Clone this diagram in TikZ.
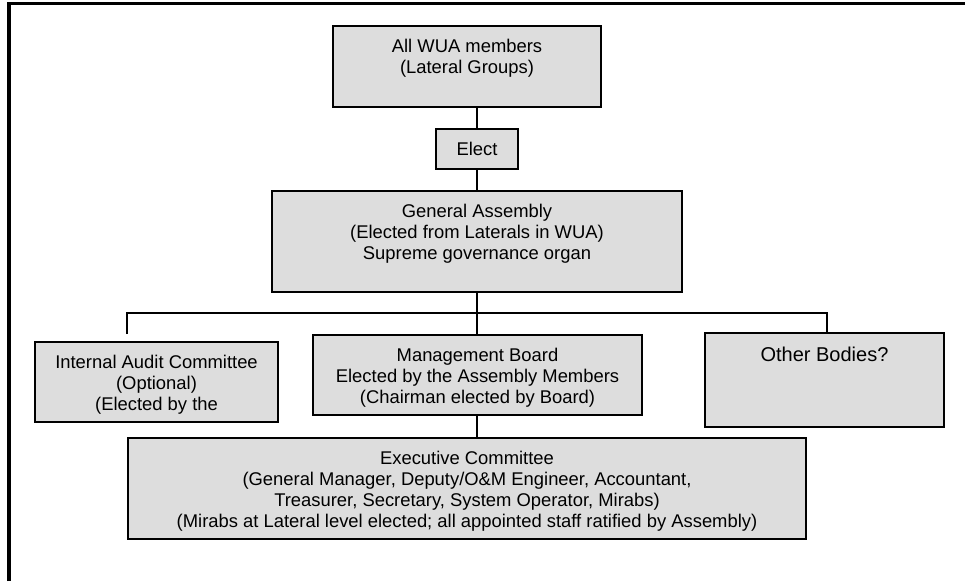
\documentclass[tikz,border=0pt]{standalone}
\usepackage{fontspec}
\setmainfont{Liberation Sans}
\usetikzlibrary{calc}
\definecolor{boxgray}{HTML}{DDDDDD}

\begin{document}
\begin{tikzpicture}[x=1pt,y=1pt,
  box/.style={draw=black, fill=boxgray, line width=2.6pt, inner sep=0pt},
  txt/.style={align=center, font=\fontsize{18.4}{21}\selectfont, anchor=north, inner sep=0pt},
  link/.style={black, line width=2.4pt}]
\useasboundingbox (0,0) rectangle (965,-581);
% frame, top and left side only
\draw[line width=3.4pt] (9,-581) -- (9,-3.5) -- (965,-3.5);
% boxes
\node[box, minimum width=268pt, minimum height=81pt] (wua) at (467,-66.5) {};
\node[box, minimum width=82pt, minimum height=40pt, font=\fontsize{18.4}{21}\selectfont] (elect) at (477,-149) {Elect};
\node[box, minimum width=410pt, minimum height=101pt] (ga) at (477,-241.5) {};
\node[box, minimum width=243pt, minimum height=80pt] (audit) at (156.5,-382) {};
\node[box, minimum width=329pt, minimum height=80pt] (board) at (477.5,-375) {};
\node[box, minimum width=239pt, minimum height=94pt] (other) at (824.5,-380) {};
\node[box, minimum width=678pt, minimum height=101pt] (exec) at (467,-488.5) {};
% texts
\node[txt] (wua-t) at ([yshift=-14pt]wua.north) {All WUA members\\(Lateral Groups)};
\node[txt] (ga-t) at ([yshift=-14pt]ga.north) {General Assembly\\(Elected from Laterals in WUA)\\Supreme governance organ};
\node[txt] (audit-t) at ([yshift=-14pt]audit.north) {Internal Audit Committee\\(Optional)\\(Elected by the};
\node[txt] (board-t) at ([yshift=-14pt]board.north) {Management Board\\Elected by the Assembly Members\\(Chairman elected by Board)};
\node[txt, font=\fontsize{20}{23}\selectfont] (other-t) at ([yshift=-15pt]other.north) {Other Bodies?};
\node[txt] (exec-t) at ([yshift=-14pt]exec.north) {Executive Committee\\(General Manager, Deputy/O\&M Engineer, Accountant,\\Treasurer, Secretary, System Operator, Mirabs)\\(Mirabs at Lateral level elected; all appointed staff ratified by Assembly)};
% connectors
\coordinate (busL) at (127,-313);
\coordinate (busR) at (827,-313);
\coordinate (auditend) at (127,-334);
\draw[link] (elect.north) -- (elect.north |- wua.south);
\draw[link] (elect.south) -- (ga.north);
\draw[link] (ga.south) -- (ga.south |- board.north);
\draw[link] (auditend) -- (busL) -- (busR) -- (busR |- other.north);
\draw[link] (board.south -| ga.south) -- (ga.south |- exec.north);
\end{tikzpicture}
\end{document}
